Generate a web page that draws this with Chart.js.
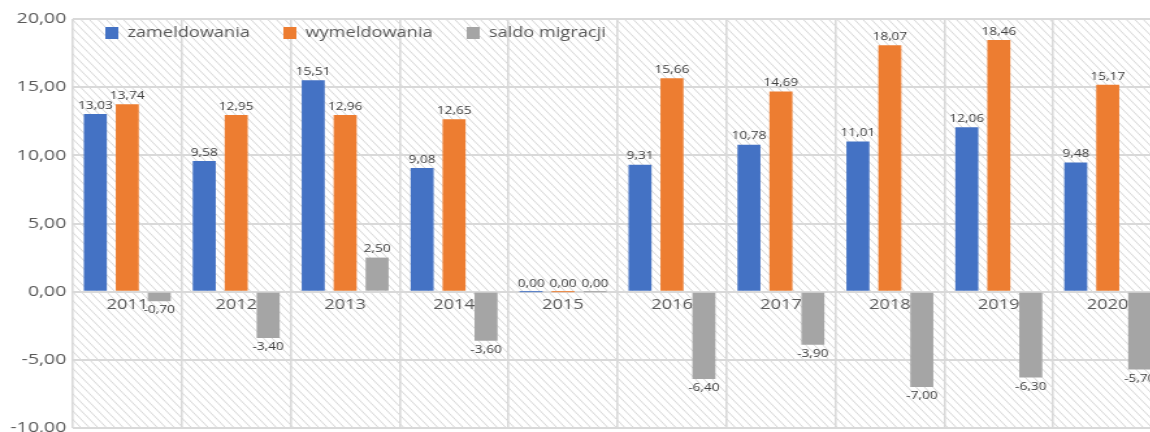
<!DOCTYPE html>
<html>
<head>
<meta charset="utf-8">
<script src="https://cdn.jsdelivr.net/npm/chart.js@4.4.1/dist/chart.umd.min.js"></script>
<style>
html,body{margin:0;padding:0;background:#fff;overflow:hidden;}
#wrap{position:absolute;left:0;top:0;width:1150px;height:432px;overflow:hidden;}
#inner{position:absolute;left:0;top:0;transform:scaleX(1.3);transform-origin:0 0;}
</style>
</head>
<body>
<div id="wrap"><div id="inner"><canvas id="c" width="894" height="442"></canvas></div></div>
<script>
const categories = ['2011','2012','2013','2014','2015','2016','2017','2018','2019','2020'];
const zameldowania = [13.03, 9.58, 15.51, 9.08, 0.00, 9.31, 10.78, 11.01, 12.06, 9.48];
const wymeldowania = [13.74, 12.95, 12.96, 12.65, 0.00, 15.66, 14.69, 18.07, 18.46, 15.17];
const saldoMigracji = [-0.70, -3.40, 2.50, -3.60, 0.00, -6.40, -3.90, -7.00, -6.30, -5.70];
const seriesNames = ['zameldowania', 'wymeldowania', 'saldo migracji'];
const colors = ['#4472C4', '#ED7D31', '#A5A5A5'];

const SX = 1.3; // horizontal stretch of the whole picture
const fmt = v => v.toFixed(2).replace('.', ',');

const bgPlugin = {
  id: 'bgHatch',
  beforeDraw(chart) {
    const {ctx, chartArea: a} = chart;
    const h = a.bottom - a.top;
    const step = 8.5 / SX;
    ctx.save();
    ctx.beginPath();
    ctx.rect(a.left, a.top, a.right - a.left, h);
    ctx.clip();
    ctx.strokeStyle = '#d6d6d6';
    ctx.lineWidth = 1;
    ctx.beginPath();
    for (let x = a.left - h / SX; x < a.right + step; x += step) {
      ctx.moveTo(x, a.top);
      ctx.lineTo(x + h / SX, a.bottom);
    }
    ctx.stroke();
    ctx.restore();
  }
};

const labelPlugin = {
  id: 'valLabels',
  afterDatasetsDraw(chart) {
    const ctx = chart.ctx;
    ctx.save();
    ctx.font = '10.5px "Open Sans", sans-serif';
    ctx.fillStyle = '#404040';
    ctx.textAlign = 'center';
    chart.data.datasets.forEach((ds, i) => {
      const meta = chart.getDatasetMeta(i);
      meta.data.forEach((el, j) => {
        const v = ds.data[j];
        if (v >= 0) {
          ctx.textBaseline = 'bottom';
          ctx.fillText(fmt(v), el.x, el.y - 3);
        } else {
          ctx.textBaseline = 'top';
          ctx.fillText(fmt(v), el.x, el.y + 4);
        }
      });
    });
    ctx.restore();
  }
};

const legendPlugin = {
  id: 'overlayLegend',
  afterDraw(chart) {
    const ctx = chart.ctx;
    ctx.save();
    ctx.font = '14px "Open Sans", sans-serif';
    ctx.textBaseline = 'middle';
    ctx.textAlign = 'left';
    const xs = [81, 218, 359];
    const y = 33;
    chart.data.datasets.forEach((ds, i) => {
      ctx.fillStyle = ds.backgroundColor;
      ctx.fillRect(xs[i], y - 6, 10, 12);
      ctx.fillStyle = '#595959';
      ctx.fillText(ds.label, xs[i] + 17, y);
    });
    ctx.restore();
  }
};

new Chart(document.getElementById('c'), {
  type: 'bar',
  data: {
    labels: categories,
    datasets: [
      {label: seriesNames[0], data: zameldowania, backgroundColor: colors[0]},
      {label: seriesNames[1], data: wymeldowania, backgroundColor: colors[1]},
      {label: seriesNames[2], data: saldoMigracji, backgroundColor: colors[2]}
    ]
  },
  options: {
    responsive: false,
    animation: false,
    layout: {padding: {top: 19, right: 0, bottom: 0, left: 0}},
    datasets: {bar: {categoryPercentage: 0.88, barPercentage: 0.72, minBarLength: 1}},
    plugins: {legend: {display: false}, tooltip: {enabled: false}},
    scales: {
      x: {
        position: {y: 0},
        grid: {color: '#d9d9d9', lineWidth: 1.6, drawTicks: false, offset: true},
        border: {display: false},
        ticks: {color: '#595959', font: {family: '"Open Sans", sans-serif', size: 14}, padding: 5, maxRotation: 0}
      },
      y: {
        min: -10, max: 20,
        afterFit(s) { s.width = 56; },
        grid: {color: '#d9d9d9', lineWidth: 2, drawTicks: false},
        border: {display: false},
        ticks: {stepSize: 5, color: '#595959', padding: 5,
          font: {family: '"Open Sans", sans-serif', size: 15},
          callback: v => fmt(v)}
      }
    }
  },
  plugins: [bgPlugin, labelPlugin, legendPlugin]
});
</script>
</body>
</html>
